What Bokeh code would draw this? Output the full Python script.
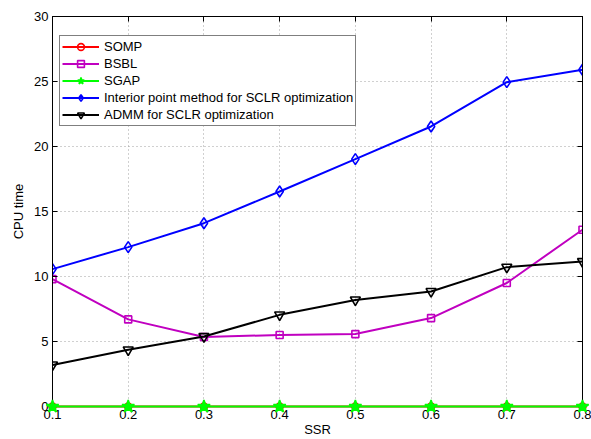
from bokeh.plotting import figure
from bokeh.models import (LinearAxis, FixedTicker, Range1d, Legend, LegendItem)
from bokeh.embed import file_html
from bokeh.resources import INLINE

# Sampling-to-signal ratio on the x axis
ssr = [0.1, 0.2, 0.3, 0.4, 0.5, 0.6, 0.7, 0.8]

# CPU time of each method
somp = [0.0, 0.0, 0.0, 0.0, 0.0, 0.0, 0.0, 0.0]
bsbl = [9.8, 6.7, 5.35, 5.5, 5.57, 6.8, 9.5, 13.6]
sgap = [0.0, 0.0, 0.0, 0.0, 0.0, 0.0, 0.0, 0.0]
interior = [10.57, 12.26, 14.1, 16.54, 19.03, 21.54, 24.95, 25.9]
admm = [3.2, 4.36, 5.38, 7.05, 8.2, 8.85, 10.72, 11.15]

x_ticks = [0.1, 0.2, 0.3, 0.4, 0.5, 0.6, 0.7, 0.8]
x_tick_labels = ["0.1", "0.2", "0.3", "0.4", "0.5", "0.6", "0.7", "0.8"]
y_ticks = [0, 5, 10, 15, 20, 25, 30]

FONT = "Liberation Sans"
FS = "13px"

p = figure(width=591, height=439, output_backend="svg", toolbar_location=None,
           x_range=Range1d(0.1, 0.8), y_range=Range1d(0, 30),
           min_border_left=52, min_border_right=9, min_border_top=16,
           min_border_bottom=33)
p.background_fill_color = "white"
p.border_fill_color = "white"
p.outline_line_color = "black"
p.outline_line_width = 1

# Bottom / left axes
for ax, ticks in ((p.xaxis[0], x_ticks), (p.yaxis[0], y_ticks)):
    ax.ticker = FixedTicker(ticks=ticks)
    ax.major_tick_in = 5
    ax.major_tick_out = 0
    ax.minor_tick_line_color = None
    ax.axis_line_color = "black"
    ax.major_tick_line_color = "black"
    ax.major_label_text_font = FONT
    ax.major_label_text_font_size = FS
    ax.major_label_text_color = "black"
    ax.axis_label_text_font = FONT
    ax.axis_label_text_font_size = FS
    ax.axis_label_text_font_style = "normal"
    ax.axis_label_text_color = "black"

p.xaxis[0].major_label_overrides = {t: s for t, s in zip(x_ticks, x_tick_labels)}
p.xaxis[0].axis_label = "SSR"
p.xaxis[0].major_label_standoff = 3
p.xaxis[0].axis_label_standoff = 0
p.yaxis[0].axis_label = "CPU time"
p.yaxis[0].major_label_standoff = 4
p.yaxis[0].axis_label_standoff = 5

# Mirror ticks on the top and right edges of the box (no labels)
for loc, ticks in (("above", x_ticks), ("right", y_ticks)):
    ax = LinearAxis(ticker=FixedTicker(ticks=ticks))
    ax.major_tick_in = 5
    ax.major_tick_out = 0
    ax.minor_tick_line_color = None
    ax.axis_line_color = "black"
    ax.major_label_text_color = None
    ax.major_label_standoff = 0
    p.add_layout(ax, loc)

# Dotted grid
p.xgrid.ticker = FixedTicker(ticks=x_ticks)
p.ygrid.ticker = FixedTicker(ticks=y_ticks)
for g in (p.xgrid[0], p.ygrid[0]):
    g.grid_line_color = "#a0a0a0"
    g.grid_line_dash = "1 3"
    g.grid_line_width = 1

series = [
    ("SOMP", somp, "#ff0000", "circle", 7, None),
    ("BSBL", bsbl, "#c000c0", "square", 7, None),
    ("SGAP", sgap, "#00ff00", "star", 13, "#00ff00"),
    ("Interior point method for SCLR optimization", interior, "#0000ff", "diamond", 11, None),
    ("ADMM for SCLR optimization", admm, "#000000", "inverted_triangle", 10, None),
]

items = []
for label, ys, color, marker, size, fill in series:
    r_line = p.line(ssr, ys, line_color=color, line_width=2)
    r_mark = p.scatter(ssr, ys, marker=marker, size=size, line_color=color,
                       line_width=1.6, fill_color=fill if fill else "white",
                       fill_alpha=1.0 if fill else 0.0)
    # the zero-valued series sit on the bottom axis and are drawn over it
    if max(ys) == 0:
        r_line.level = "overlay"
        r_mark.level = "overlay"
    items.append(LegendItem(label=label, renderers=[r_line, r_mark]))

legend = Legend(items=items, location=(7, 280))
legend.border_line_color = "black"
legend.border_line_width = 1
legend.background_fill_color = "white"
legend.background_fill_alpha = 1.0
legend.label_text_font = FONT
legend.label_text_font_size = FS
legend.label_text_color = "black"
legend.glyph_width = 37
legend.glyph_height = 17
legend.label_height = 17
legend.label_standoff = 5
legend.padding = 2
legend.spacing = 0
legend.margin = 0
p.add_layout(legend, "center")

open("out.html", "w").write(file_html(p, INLINE))
